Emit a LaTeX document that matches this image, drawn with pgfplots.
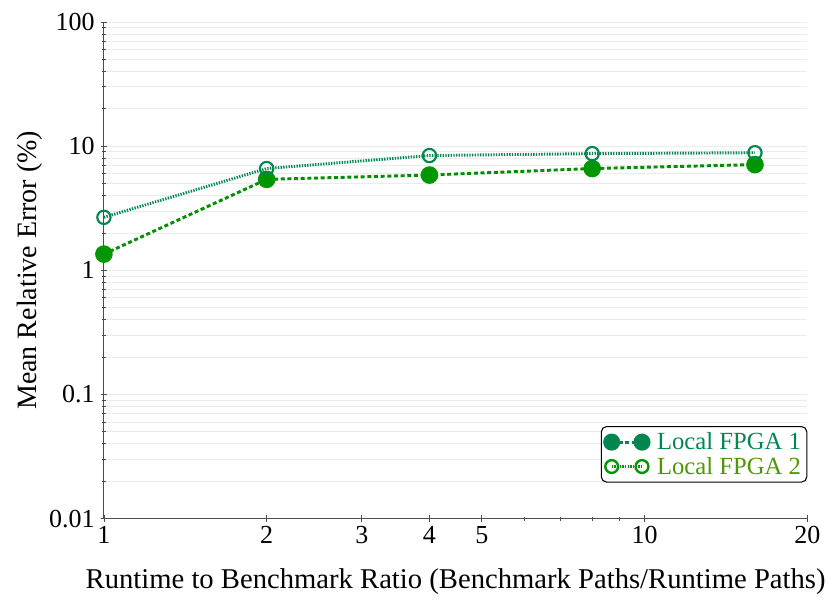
\documentclass[border=0pt]{standalone}
\usepackage{fontspec}
\setmainfont{Liberation Serif}
\usepackage{pgfplots}
\pgfplotsset{compat=1.18}
\definecolor{fgreen}{RGB}{0,150,0}
\definecolor{dgreen}{RGB}{0,140,0}
\definecolor{fteal}{RGB}{0,135,80}
\definecolor{olive}{RGB}{80,150,0}
\begin{document}
\begin{tikzpicture}
\begin{axis}[
  scale only axis, width=528pt, height=372.75pt,
  xmode=log, ymode=log,
  xmin=1, xmax=20, ymin=0.01, ymax=100,
  axis x line=bottom, axis y line=left,
  axis line style={-, black!70, line width=0.8pt},
  /pgf/number format/assume math mode=true,
  xtick={1,2,3,4,5,10,20}, xticklabels={1,2,3,4,5,10,20},
  minor xtick={6,7,8,9},
  ytick={0.01,0.1,1,10,100}, yticklabels={0.01,0.1,1,10,100},
  minor ytick={0.02,0.03,0.04,0.05,0.06,0.07,0.08,0.09,0.2,0.3,0.4,0.5,0.6,0.7,0.8,0.9,2,3,4,5,6,7,8,9,20,30,40,50,60,70,80,90},
  yminorgrids, ymajorgrids,
  minor grid style={black!8, line width=0.6pt},
  major grid style={black!8, line width=0.6pt},
  tick style={black!70, line width=0.6pt},
  major tick length=5pt, minor tick length=3pt,
  tick label style={font=\fontsize{19.5}{22}\selectfont},
  yticklabel style={xshift=-1pt},
  xlabel={Runtime to Benchmark Ratio (Benchmark Paths/Runtime Paths)},
  ylabel={Mean Relative Error (\%)},
  xlabel style={font=\fontsize{21.5}{25}\selectfont, at={(axis description cs:0.5,0)}, anchor=center, yshift=-47.5pt},
  ylabel style={font=\fontsize{21}{25}\selectfont, at={(axis description cs:0,0.5)}, anchor=center, yshift=55.5pt},
  legend style={at={(1,0)}, anchor=south east, yshift=27pt, draw=black, rounded corners=4pt,
    font=\fontsize{18.5}{21}\selectfont, line width=0.8pt, inner sep=2.5pt, row sep=0pt,
    nodes={inner sep=2pt}},
  legend cell align=left,
  legend image code/.code={\draw[mark repeat=2, mark phase=1] plot coordinates {(0cm,0cm) (0.4cm,0cm) (0.8cm,0cm)};},
]
\addlegendimage{fteal, line width=2.2pt, dash pattern=on 3pt off 2pt, mark=*, mark size=5.3pt, mark options={solid, fill=fteal, draw=fteal}}
\addlegendentry{\textcolor{fteal}{\hspace{4pt}Local FPGA 1}}
\addlegendimage{fgreen, line width=2.2pt, dash pattern=on 1pt off 1pt, mark=o, mark size=4.8pt, mark options={solid, line width=1.8pt, fill=white, draw=fgreen}}
\addlegendentry{\textcolor{olive}{\hspace{4pt}Local FPGA 2}}

\addplot[forget plot, dgreen, line width=2.2pt, dash pattern=on 3pt off 2pt, mark=*, mark size=5.5pt, mark options={solid, fill=fgreen, draw=fgreen}]
coordinates {(1,1.35) (2,5.4) (4,5.85) (8,6.6) (16,7.1)};
\addplot[forget plot, fteal, line width=2.2pt, dash pattern=on 1pt off 1pt, mark=o, mark size=5pt, mark options={solid, line width=1.6pt, fill=white, draw=fteal}]
coordinates {(1,2.67) (2,6.6) (4,8.4) (8,8.7) (16,8.85)};
\end{axis}
\path (current axis.south west) ++(-78pt,-65.25pt) (current axis.north east) ++(16.5pt,16.5pt);
\end{tikzpicture}
\end{document}
